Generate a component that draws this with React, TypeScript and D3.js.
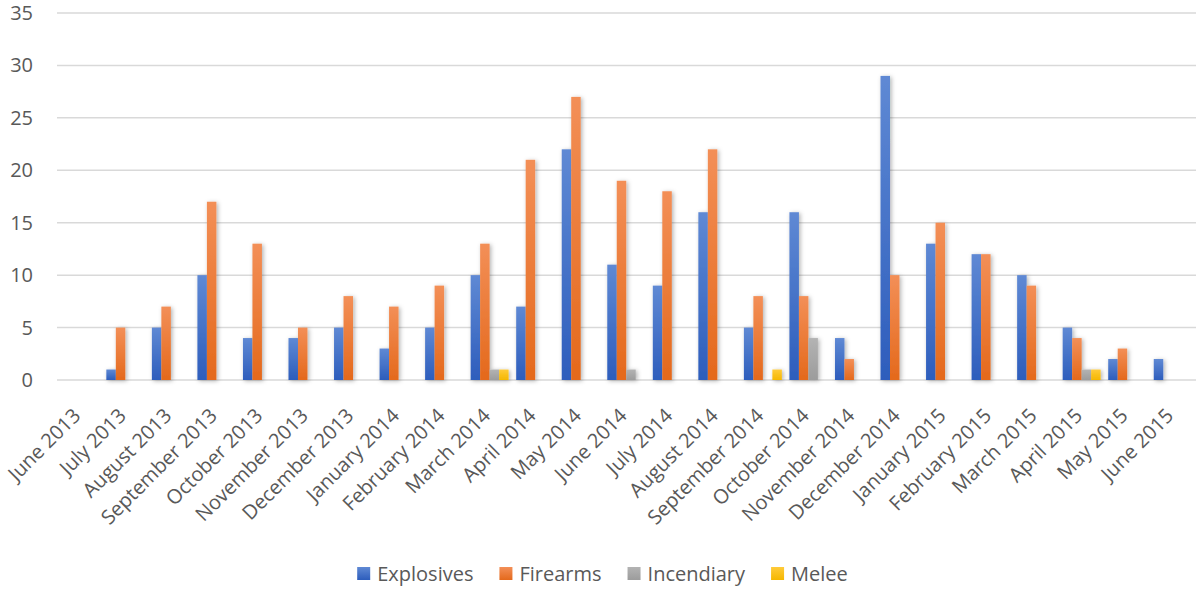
import React, { useEffect, useRef } from "react";
import * as d3 from "d3";

const categories = [
  "June 2013", "July 2013", "August 2013", "September 2013", "October 2013",
  "November 2013", "December 2013", "January 2014", "February 2014", "March 2014",
  "April 2014", "May 2014", "June 2014", "July 2014", "August 2014",
  "September 2014", "October 2014", "November 2014", "December 2014", "January 2015",
  "February 2015", "March 2015", "April 2015", "May 2015", "June 2015",
];

const seriesNames = ["Explosives", "Firearms", "Incendiary", "Melee"];

const explosives = [0, 1, 5, 10, 4, 4, 5, 3, 5, 10, 7, 22, 11, 9, 16, 5, 16, 4, 29, 13, 12, 10, 5, 2, 2];
const firearms = [0, 5, 7, 17, 13, 5, 8, 7, 9, 13, 21, 27, 19, 18, 22, 8, 8, 2, 10, 15, 12, 9, 4, 3, 0];
const incendiary = [0, 0, 0, 0, 0, 0, 0, 0, 0, 1, 0, 0, 1, 0, 0, 0, 4, 0, 0, 0, 0, 0, 1, 0, 0];
const melee = [0, 0, 0, 0, 0, 0, 0, 0, 0, 1, 0, 0, 0, 0, 0, 1, 0, 0, 0, 0, 0, 0, 1, 0, 0];

const yTicks = [0, 5, 10, 15, 20, 25, 30, 35];

// light top / darker bottom for each series
const gradients = [
  ["#5f89d4", "#2d5dbc"],
  ["#f38f57", "#e4691c"],
  ["#b3b3b3", "#9c9c9c"],
  ["#ffcb3a", "#f5b700"],
];

const W = 1197;
const H = 590;
const FONT = "'Open Sans', 'Noto Sans', sans-serif";
const TEXT = "#595959";

export default function App() {
  const ref = useRef<SVGSVGElement>(null);

  useEffect(() => {
    const svg = d3.select(ref.current);
    svg.selectAll("*").remove();

    const values = [explosives, firearms, incendiary, melee];

    const x0 = d3.scaleBand<string>().domain(categories).range([57, 1195.5]);
    const x1 = d3
      .scaleBand<string>()
      .domain(seriesNames)
      .range([0, x0.bandwidth()])
      .paddingOuter(0.4);
    const y = d3.scaleLinear().domain([0, 35]).range([380, 13]);

    const defs = svg.append("defs");
    gradients.forEach((g, i) => {
      const lg = defs
        .append("linearGradient")
        .attr("id", `grad${i}`)
        .attr("x1", 0)
        .attr("y1", 0)
        .attr("x2", 0)
        .attr("y2", 1);
      lg.append("stop").attr("offset", "0%").attr("stop-color", g[0]);
      lg.append("stop").attr("offset", "100%").attr("stop-color", g[1]);
    });
    const f = defs
      .append("filter")
      .attr("id", "shadow")
      .attr("x", "-60%")
      .attr("y", "-20%")
      .attr("width", "220%")
      .attr("height", "140%");
    f.append("feDropShadow")
      .attr("dx", 1.5)
      .attr("dy", 1)
      .attr("stdDeviation", 2)
      .attr("flood-color", "#000")
      .attr("flood-opacity", 0.3);

    svg.append("rect").attr("width", W).attr("height", H).attr("fill", "#fff");

    // horizontal gridlines
    svg
      .append("g")
      .selectAll("line")
      .data(yTicks)
      .join("line")
      .attr("x1", 57)
      .attr("x2", 1196)
      .attr("y1", (d) => y(d))
      .attr("y2", (d) => y(d))
      .attr("stroke", "#d9d9d9")
      .attr("stroke-width", 1.5);

    // y tick labels
    svg
      .append("g")
      .selectAll("text")
      .data(yTicks)
      .join("text")
      .attr("x", 33)
      .attr("y", (d) => y(d))
      .attr("dy", "0.35em")
      .attr("text-anchor", "end")
      .attr("font-family", FONT)
      .attr("font-size", 20)
      .attr("fill", TEXT)
      .text((d) => d);

    // bars
    const bars = svg.append("g").attr("filter", "url(#shadow)");
    seriesNames.forEach((s, si) => {
      const data = categories
        .map((c, ci) => ({ c, v: values[si][ci] }))
        .filter((d) => d.v > 0);
      bars
        .append("g")
        .selectAll("rect")
        .data(data)
        .join("rect")
        .attr("x", (d) => (x0(d.c) ?? 0) + (x1(s) ?? 0))
        .attr("width", x1.bandwidth())
        .attr("y", (d) => y(d.v))
        .attr("height", (d) => y(0) - y(d.v))
        .attr("fill", `url(#grad${si})`);
    });

    // category labels
    svg
      .append("g")
      .selectAll("text")
      .data(categories)
      .join("text")
      .attr(
        "transform",
        (d) => `translate(${(x0(d) ?? 0) + x0.bandwidth() / 2 - 3},${412}) rotate(-45)`
      )
      .attr("text-anchor", "end")
      .attr("dy", "0.35em")
      .attr("font-family", FONT)
      .attr("font-size", 20)
      .attr("fill", TEXT)
      .text((d) => d);

    // legend
    const legend = svg.append("g");
    const items = legend
      .selectAll("g")
      .data(seriesNames)
      .join("g");
    items
      .append("rect")
      .attr("width", 13)
      .attr("height", 13)
      .attr("y", 567)
      .attr("fill", (_, i) => `url(#grad${i})`);
    items
      .append("text")
      .attr("x", 20)
      .attr("y", 574)
      .attr("dy", "0.35em")
      .attr("font-family", FONT)
      .attr("font-size", 20)
      .attr("fill", TEXT)
      .text((d) => d);
    const widths: number[] = [];
    items.select("text").each(function () {
      widths.push((this as SVGTextElement).getComputedTextLength());
    });
    const gap = 26;
    const itemW = widths.map((w) => 20 + w);
    const total = d3.sum(itemW) + gap * (itemW.length - 1);
    let cx = 602.5 - total / 2;
    items.attr("transform", (_, i) => {
      const t = `translate(${cx},0)`;
      cx += itemW[i] + gap;
      return t;
    });
  }, []);

  return (
    <svg
      ref={ref}
      width={W}
      height={H}
      style={{ position: "absolute", left: 0, top: 0 }}
    />
  );
}
